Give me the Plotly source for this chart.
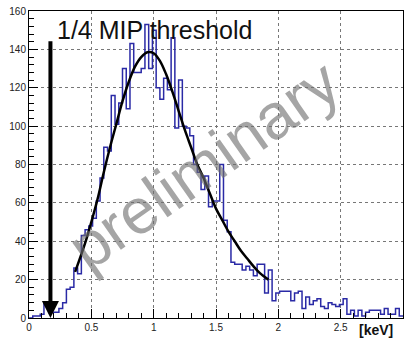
import plotly.graph_objects as go

# histogram: 100 bins from 0 to 3 keV
bin_lo = 0.0
bin_width = 0.03
counts = [0, 1, 1, 2, 8, 7, 3, 3, 5, 8,
          15, 16, 26, 23, 43, 46, 48, 52, 61, 73,
          89, 87, 116, 101, 112, 130, 109, 143, 128, 128,
          130, 153, 130, 150, 120, 114, 125, 119, 146, 99,
          124, 100, 99, 95, 80, 76, 67, 74, 58, 61,
          61, 80, 51, 45, 29, 28, 28, 25, 27, 25,
          22, 28, 28, 13, 25, 9, 13, 14, 14, 14,
          9, 13, 14, 5, 11, 7, 9, 10, 6, 5,
          8, 7, 6, 7, 10, 2, 4, 1, 4, 1,
          3, 4, 4, 4, 2, 5, 2, 2, 5, 1]

# fit curve
fit_x = [0.37, 0.45, 0.50, 0.55, 0.60, 0.65, 0.70, 0.75, 0.80, 0.85, 0.90, 0.95,
         1.00, 1.05, 1.10, 1.15, 1.20, 1.25, 1.30, 1.35, 1.40, 1.45, 1.50, 1.55,
         1.60, 1.65, 1.70, 1.75, 1.80, 1.85, 1.92]
fit_y = [24, 39, 50, 62, 76, 89, 101, 113, 123, 131, 136, 138.5,
         138, 134, 127, 118, 108, 98, 89, 80, 73, 65, 57, 51,
         45, 40, 35, 31, 27, 23.5, 20]

threshold_x = 0.172
threshold_top = 145
label_text = "1/4 MIP threshold"
watermark = "preliminary"
x_title = "[keV]"

edges = [bin_lo + i * bin_width for i in range(len(counts) + 1)]
step_y = counts + [counts[-1]]

fig = go.Figure()
fig.add_trace(go.Scatter(x=edges, y=step_y, mode="lines", line_shape="hv",
                         line=dict(color="#2a2aa6", width=1.5), hoverinfo="skip"))
fig.add_trace(go.Scatter(x=fit_x, y=fit_y, mode="lines", line_shape="spline",
                         line=dict(color="black", width=2.5), hoverinfo="skip"))

fig.add_annotation(x=threshold_x, y=0, ax=threshold_x, ay=threshold_top,
                   xref="x", yref="y", axref="x", ayref="y", text="",
                   showarrow=True, arrowhead=2, arrowsize=0.85, arrowwidth=4,
                   arrowcolor="black", standoff=0)
fig.add_annotation(x=0.205, y=150, xref="x", yref="y", text=label_text,
                   showarrow=False, xanchor="left", yanchor="middle",
                   font=dict(family="Liberation Sans, Arial", size=25, color="#111"))
fig.add_annotation(x=1.40, y=80, xref="x", yref="y", text=watermark,
                   showarrow=False, textangle=-35, xanchor="center", yanchor="middle",
                   font=dict(family="Liberation Sans, Arial", size=64,
                             color="rgba(110,110,110,0.62)"))
fig.add_annotation(x=1.0, y=0, xref="paper", yref="paper", text="<b>" + x_title + "</b>",
                   showarrow=False, xanchor="right", yanchor="top", xshift=-8, yshift=-2,
                   font=dict(family="Liberation Sans, Arial", size=14, color="#111"))

fig.update_layout(
    width=405, height=340,
    margin=dict(l=29, r=2, t=11, b=22, autoexpand=False),
    paper_bgcolor="white", plot_bgcolor="white",
    showlegend=False,
)
fig.update_xaxes(range=[0, 3], tickvals=[0, 0.5, 1, 1.5, 2, 2.5, 3],
                 ticktext=["0", "0.5", "1", "1.5", "2", "2.5", "3"],
                 automargin=False,
                 ticks="inside", ticklen=9, tickcolor="black",
                 minor=dict(ticks="inside", ticklen=5, dtick=0.1, tickcolor="black", showgrid=False),
                 showline=True, linecolor="black", linewidth=1, mirror=True,
                 showgrid=True, gridcolor="#777", griddash="dot", gridwidth=1,
                 zeroline=False,
                 tickfont=dict(family="Liberation Sans, Arial", size=10, color="#222"))
fig.update_yaxes(range=[0, 160], dtick=20,
                 automargin=False,
                 ticks="inside", ticklen=9, tickcolor="black",
                 minor=dict(ticks="inside", ticklen=5, dtick=4, tickcolor="black", showgrid=False),
                 showline=True, linecolor="black", linewidth=1, mirror=True,
                 showgrid=True, gridcolor="#777", griddash="dot", gridwidth=1,
                 zeroline=False,
                 tickfont=dict(family="Liberation Sans, Arial", size=10, color="#222"))

fig.write_html("out.html", config={"displayModeBar": False},
               post_script="document.body.style.margin='0';document.body.style.overflow='hidden';")
